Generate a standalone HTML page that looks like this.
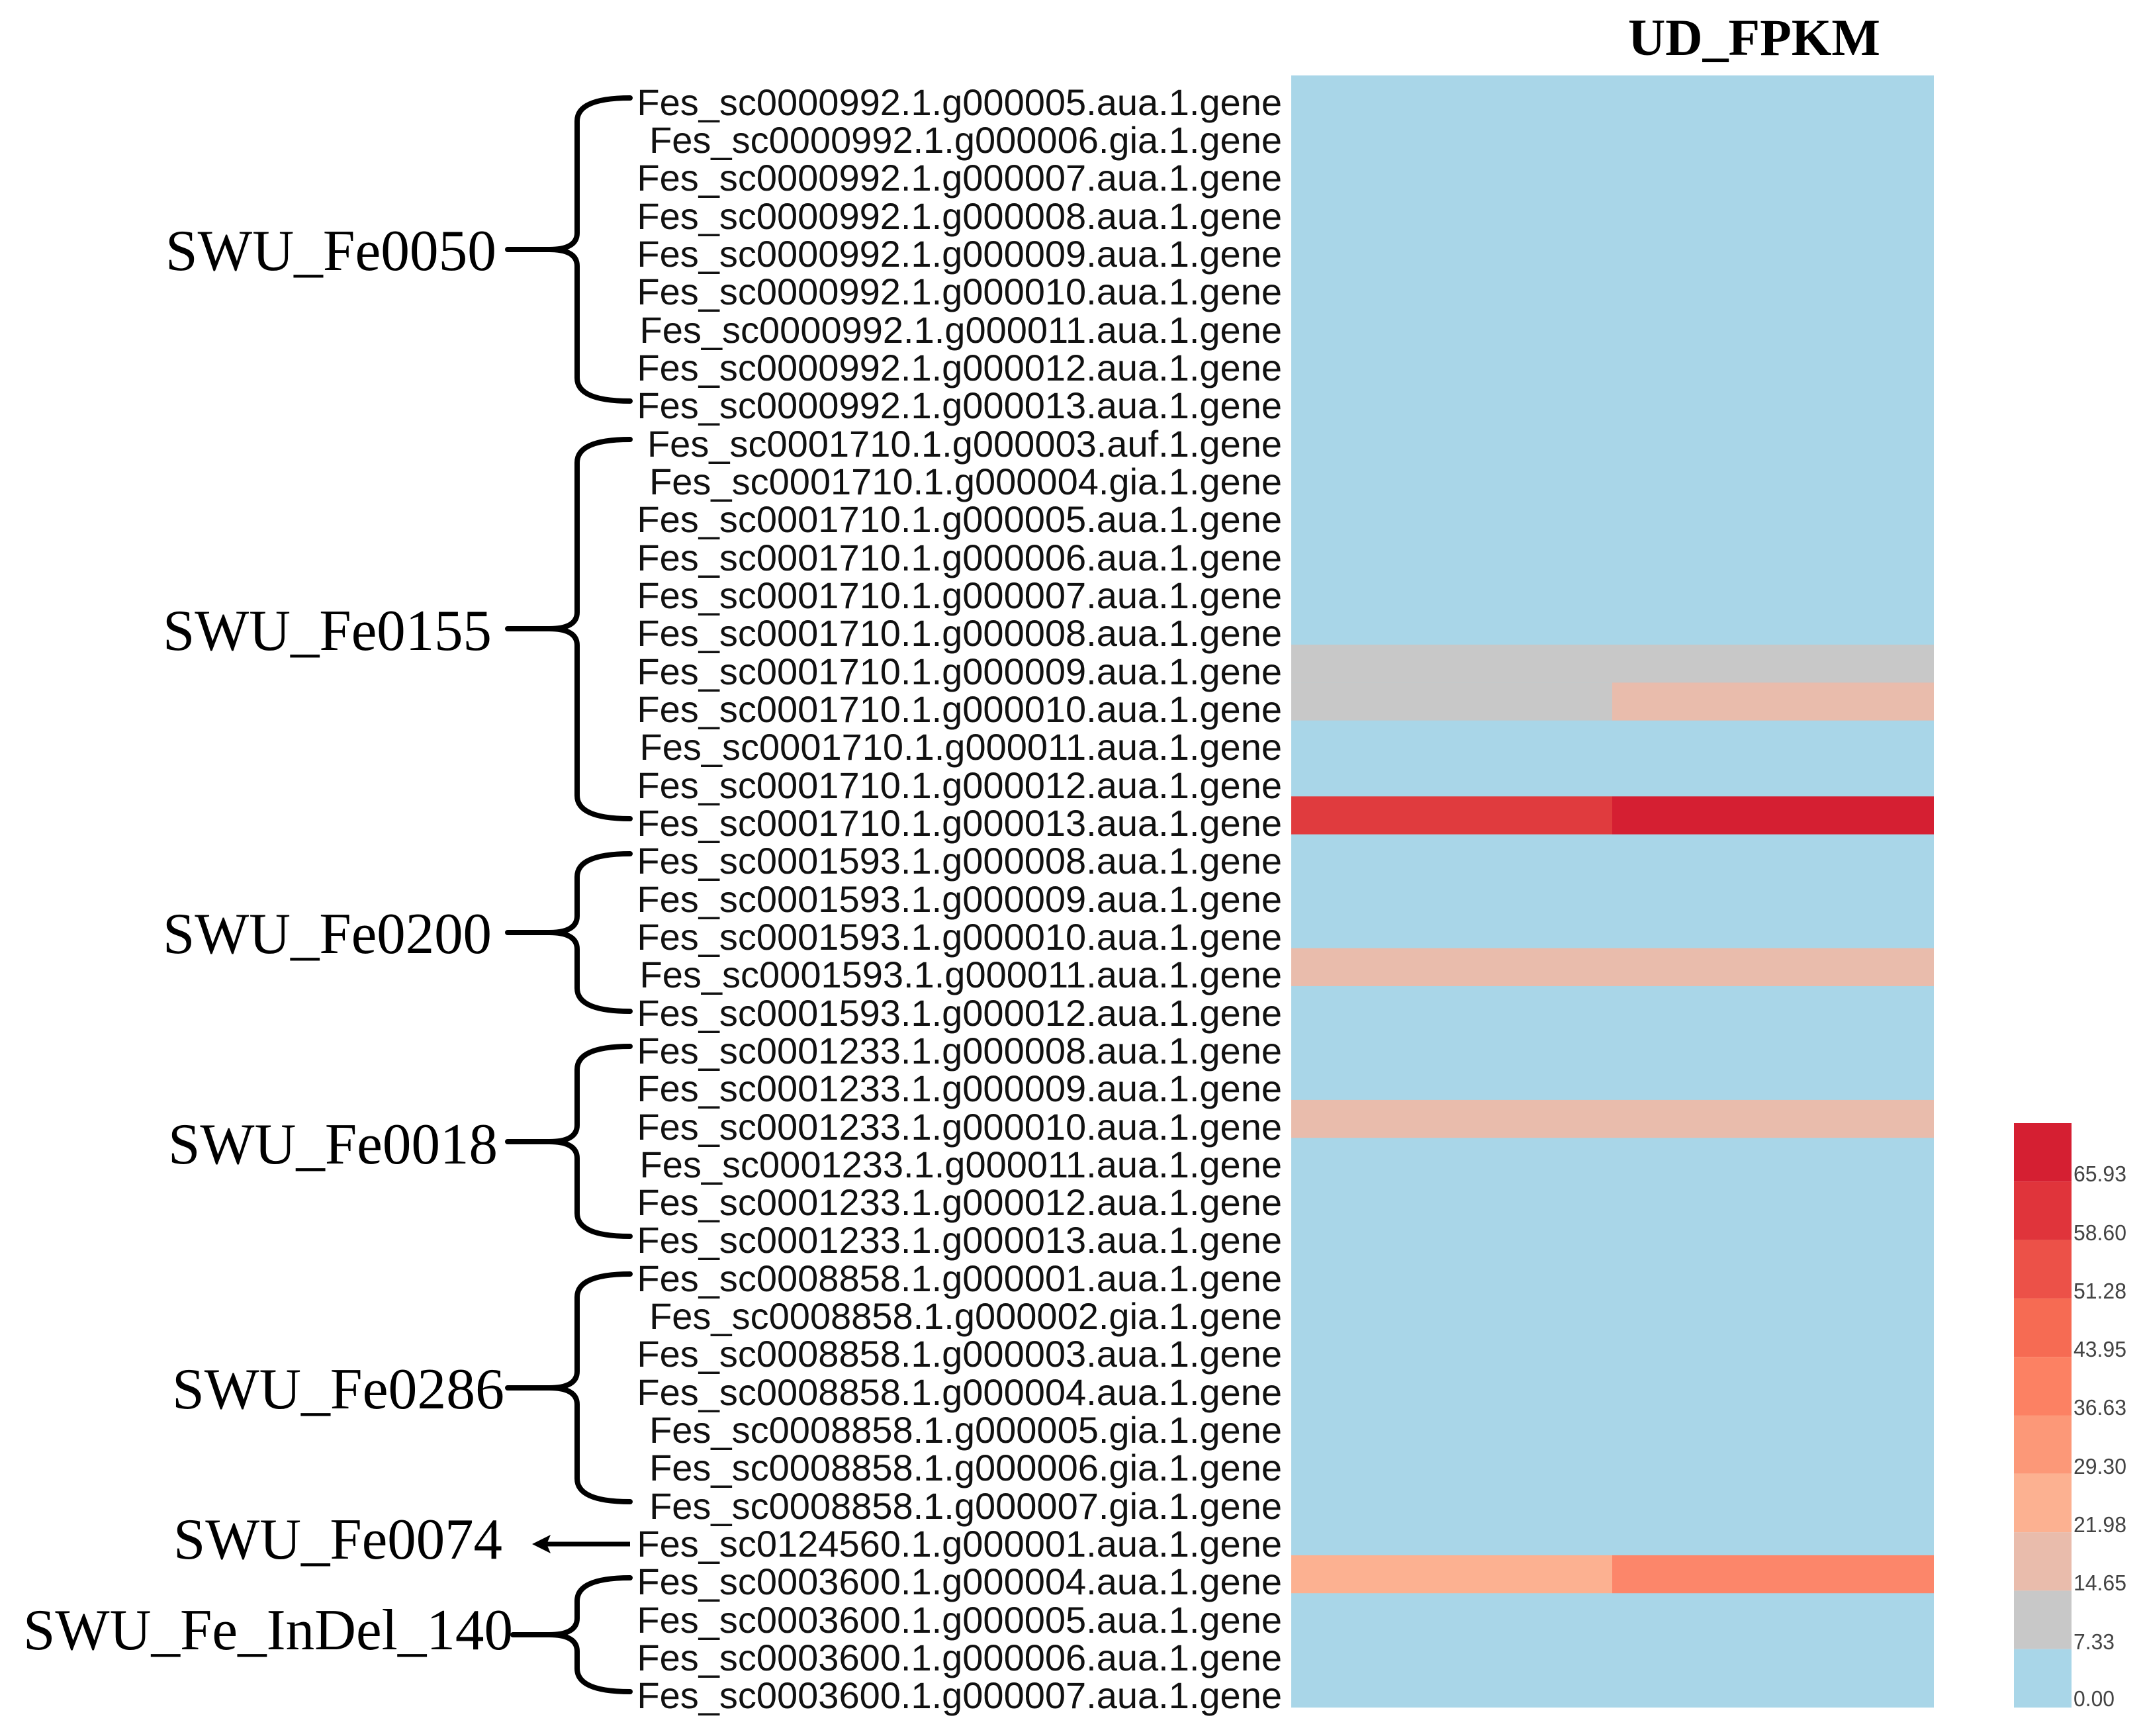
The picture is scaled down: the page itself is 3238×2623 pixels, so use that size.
<!DOCTYPE html>
<html><head><meta charset="utf-8"><style>
html,body{margin:0;padding:0;background:#fff}
svg{display:block}
.g{font-family:"Liberation Sans",Arial,sans-serif;font-size:56px;fill:#111;text-anchor:end}
.t{font-family:"Liberation Serif","Times New Roman",serif;font-size:88px;fill:#000}
.l{font-family:"Liberation Sans",Arial,sans-serif;font-size:33px;fill:#444}
.b{fill:none;stroke:#000;stroke-width:8;stroke-linecap:round;stroke-linejoin:round}
</style></head><body>
<svg width="3238" height="2623" viewBox="0 0 3238 2623" xmlns="http://www.w3.org/2000/svg">
<rect width="3238" height="2623" fill="#fff"/>
<text x="2460" y="83" font-family="Liberation Serif, serif" font-weight="bold" font-size="78" textLength="381" lengthAdjust="spacingAndGlyphs">UD_FPKM</text>
<!-- heatmap -->
<rect x="1951" y="114" width="971" height="2466" fill="#a9d6e8"/>
<rect x="1951" y="974.0" width="971" height="57.33" fill="#c8c8c8"/>
<rect x="1951" y="1031.3" width="485" height="57.33" fill="#c8c8c8"/>
<rect x="2436" y="1031.3" width="486" height="57.33" fill="#e9bcac"/>
<rect x="1951" y="1203.3" width="485" height="57.33" fill="#e03b3e"/>
<rect x="2436" y="1203.3" width="486" height="57.33" fill="#d51f32"/>
<rect x="1951" y="1432.6" width="971" height="57.33" fill="#e9bcac"/>
<rect x="1951" y="1661.9" width="971" height="57.33" fill="#e9bcac"/>
<rect x="1951" y="2349.9" width="485" height="57.33" fill="#fcb191"/>
<rect x="2436" y="2349.9" width="486" height="57.33" fill="#fc866a"/>
<!-- legend -->
<rect x="3043" y="1697" width="87" height="88.3" fill="#d51f32"/>
<rect x="3043" y="1785.3" width="87" height="88.3" fill="#e0343b"/>
<rect x="3043" y="1873.6" width="87" height="88.3" fill="#ec5148"/>
<rect x="3043" y="1961.9" width="87" height="88.3" fill="#f66b53"/>
<rect x="3043" y="2050.2" width="87" height="88.3" fill="#fc8163"/>
<rect x="3043" y="2138.5" width="87" height="88.3" fill="#fc9878"/>
<rect x="3043" y="2226.8" width="87" height="88.3" fill="#fcb191"/>
<rect x="3043" y="2315.1" width="87" height="88.3" fill="#e9bcac"/>
<rect x="3043" y="2403.4" width="87" height="88.3" fill="#c8c8c8"/>
<rect x="3043" y="2491.7" width="87" height="88.3" fill="#a9d6e8"/>
<text class="l" x="3133" y="2578" textLength="62" lengthAdjust="spacingAndGlyphs">0.00</text>
<text class="l" x="3133" y="2492" textLength="62" lengthAdjust="spacingAndGlyphs">7.33</text>
<text class="l" x="3133" y="2403" textLength="80" lengthAdjust="spacingAndGlyphs">14.65</text>
<text class="l" x="3133" y="2315" textLength="80" lengthAdjust="spacingAndGlyphs">21.98</text>
<text class="l" x="3133" y="2227" textLength="80" lengthAdjust="spacingAndGlyphs">29.30</text>
<text class="l" x="3133" y="2138" textLength="80" lengthAdjust="spacingAndGlyphs">36.63</text>
<text class="l" x="3133" y="2050" textLength="80" lengthAdjust="spacingAndGlyphs">43.95</text>
<text class="l" x="3133" y="1962" textLength="80" lengthAdjust="spacingAndGlyphs">51.28</text>
<text class="l" x="3133" y="1874" textLength="80" lengthAdjust="spacingAndGlyphs">58.60</text>
<text class="l" x="3133" y="1785" textLength="80" lengthAdjust="spacingAndGlyphs">65.93</text>
<!-- gene labels -->
<g transform="translate(0,4)">
<text class="g" x="1937" y="170">Fes_sc0000992.1.g000005.aua.1.gene</text>
<text class="g" x="1937" y="227">Fes_sc0000992.1.g000006.gia.1.gene</text>
<text class="g" x="1937" y="284">Fes_sc0000992.1.g000007.aua.1.gene</text>
<text class="g" x="1937" y="342">Fes_sc0000992.1.g000008.aua.1.gene</text>
<text class="g" x="1937" y="399">Fes_sc0000992.1.g000009.aua.1.gene</text>
<text class="g" x="1937" y="456">Fes_sc0000992.1.g000010.aua.1.gene</text>
<text class="g" x="1937" y="514">Fes_sc0000992.1.g000011.aua.1.gene</text>
<text class="g" x="1937" y="571">Fes_sc0000992.1.g000012.aua.1.gene</text>
<text class="g" x="1937" y="628">Fes_sc0000992.1.g000013.aua.1.gene</text>
<text class="g" x="1937" y="686">Fes_sc0001710.1.g000003.auf.1.gene</text>
<text class="g" x="1937" y="743">Fes_sc0001710.1.g000004.gia.1.gene</text>
<text class="g" x="1937" y="800">Fes_sc0001710.1.g000005.aua.1.gene</text>
<text class="g" x="1937" y="858">Fes_sc0001710.1.g000006.aua.1.gene</text>
<text class="g" x="1937" y="915">Fes_sc0001710.1.g000007.aua.1.gene</text>
<text class="g" x="1937" y="972">Fes_sc0001710.1.g000008.aua.1.gene</text>
<text class="g" x="1937" y="1030">Fes_sc0001710.1.g000009.aua.1.gene</text>
<text class="g" x="1937" y="1087">Fes_sc0001710.1.g000010.aua.1.gene</text>
<text class="g" x="1937" y="1144">Fes_sc0001710.1.g000011.aua.1.gene</text>
<text class="g" x="1937" y="1202">Fes_sc0001710.1.g000012.aua.1.gene</text>
<text class="g" x="1937" y="1259">Fes_sc0001710.1.g000013.aua.1.gene</text>
<text class="g" x="1937" y="1316">Fes_sc0001593.1.g000008.aua.1.gene</text>
<text class="g" x="1937" y="1374">Fes_sc0001593.1.g000009.aua.1.gene</text>
<text class="g" x="1937" y="1431">Fes_sc0001593.1.g000010.aua.1.gene</text>
<text class="g" x="1937" y="1488">Fes_sc0001593.1.g000011.aua.1.gene</text>
<text class="g" x="1937" y="1546">Fes_sc0001593.1.g000012.aua.1.gene</text>
<text class="g" x="1937" y="1603">Fes_sc0001233.1.g000008.aua.1.gene</text>
<text class="g" x="1937" y="1660">Fes_sc0001233.1.g000009.aua.1.gene</text>
<text class="g" x="1937" y="1718">Fes_sc0001233.1.g000010.aua.1.gene</text>
<text class="g" x="1937" y="1775">Fes_sc0001233.1.g000011.aua.1.gene</text>
<text class="g" x="1937" y="1832">Fes_sc0001233.1.g000012.aua.1.gene</text>
<text class="g" x="1937" y="1889">Fes_sc0001233.1.g000013.aua.1.gene</text>
<text class="g" x="1937" y="1947">Fes_sc0008858.1.g000001.aua.1.gene</text>
<text class="g" x="1937" y="2004">Fes_sc0008858.1.g000002.gia.1.gene</text>
<text class="g" x="1937" y="2061">Fes_sc0008858.1.g000003.aua.1.gene</text>
<text class="g" x="1937" y="2119">Fes_sc0008858.1.g000004.aua.1.gene</text>
<text class="g" x="1937" y="2176">Fes_sc0008858.1.g000005.gia.1.gene</text>
<text class="g" x="1937" y="2233">Fes_sc0008858.1.g000006.gia.1.gene</text>
<text class="g" x="1937" y="2291">Fes_sc0008858.1.g000007.gia.1.gene</text>
<text class="g" x="1937" y="2348">Fes_sc0124560.1.g000001.aua.1.gene</text>
<text class="g" x="1937" y="2405">Fes_sc0003600.1.g000004.aua.1.gene</text>
<text class="g" x="1937" y="2463">Fes_sc0003600.1.g000005.aua.1.gene</text>
<text class="g" x="1937" y="2520">Fes_sc0003600.1.g000006.aua.1.gene</text>
<text class="g" x="1937" y="2577">Fes_sc0003600.1.g000007.aua.1.gene</text>
</g>
<!-- braces -->
<path class="b" d="M952 148 Q872 148 872 183 L872 352 Q872 377 830 377 L767 377 M830 377 Q872 377 872 402 L872 571 Q872 606 952 606"/>
<path class="b" d="M952 664 Q872 664 872 699 L872 925 Q872 950 830 950 L767 950 M830 950 Q872 950 872 975 L872 1202 Q872 1237 952 1237"/>
<path class="b" d="M952 1290 Q872 1290 872 1325 L872 1384 Q872 1409 830 1409 L767 1409 M830 1409 Q872 1409 872 1434 L872 1493 Q872 1528 952 1528"/>
<path class="b" d="M952 1581 Q872 1581 872 1616 L872 1700 Q872 1725 830 1725 L767 1725 M830 1725 Q872 1725 872 1750 L872 1833 Q872 1868 952 1868"/>
<path class="b" d="M952 1925 Q872 1925 872 1960 L872 2072 Q872 2097 830 2097 L767 2097 M830 2097 Q872 2097 872 2122 L872 2234 Q872 2269 952 2269"/>
<path class="b" d="M952 2384 Q872 2384 872 2419 L872 2445 Q872 2470 830 2470 L775 2470 M830 2470 Q872 2470 872 2495 L872 2521 Q872 2556 952 2556"/>
<line x1="952" y1="2333" x2="825" y2="2333" stroke="#000" stroke-width="7"/>
<polygon points="804,2333 832,2319 826,2333 832,2347" fill="#000"/>
<!-- group labels -->
<text class="t" x="250" y="408" textLength="500" lengthAdjust="spacingAndGlyphs">SWU_Fe0050</text>
<text class="t" x="246" y="982" textLength="497" lengthAdjust="spacingAndGlyphs">SWU_Fe0155</text>
<text class="t" x="246" y="1440" textLength="497" lengthAdjust="spacingAndGlyphs">SWU_Fe0200</text>
<text class="t" x="254" y="1758" textLength="498" lengthAdjust="spacingAndGlyphs">SWU_Fe0018</text>
<text class="t" x="260" y="2128" textLength="502" lengthAdjust="spacingAndGlyphs">SWU_Fe0286</text>
<text class="t" x="262" y="2355" textLength="497" lengthAdjust="spacingAndGlyphs">SWU_Fe0074</text>
<text class="t" x="35" y="2492" textLength="740" lengthAdjust="spacingAndGlyphs">SWU_Fe_InDel_140</text>
</svg>
</body></html>
